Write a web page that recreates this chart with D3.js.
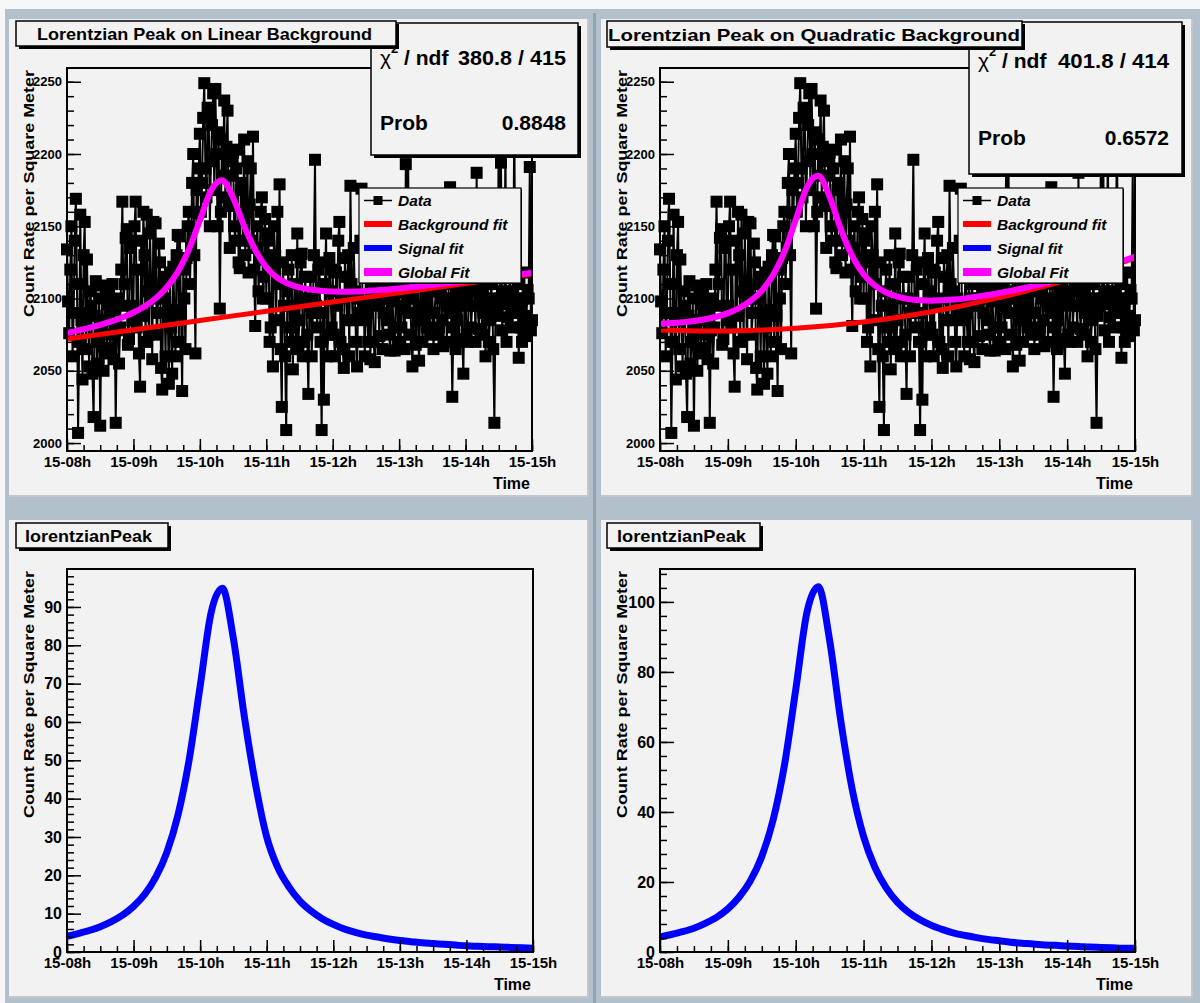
<!DOCTYPE html>
<html><head><meta charset="utf-8">
<script src="https://cdnjs.cloudflare.com/ajax/libs/d3/7.8.5/d3.min.js"></script>
<style>
body{margin:0;background:#fff;}
svg text{font-family:"Liberation Sans",Arial,Helvetica,sans-serif;font-weight:bold;fill:#000;}
</style></head><body><svg id="c" width="1200" height="1003"></svg>
<script>
// ---------------- DATA ----------------
const hourTicks = ["15-08h","15-09h","15-10h","15-11h","15-12h","15-13h","15-14h","15-15h"];
const hourValues = [8,9,10,11,12,13,14,15];
// measured count rate at even minutes (15-08:00, 08:02, ... 15-15:00)
const countRateEven = [
 2134,2076,2150,2090,2169,2007,2158,2044,2153,2127,2053,2095,2018,2112,2070,2012,2109,2085,2062,2106,2075,2058,2014,2100,2080,2167,2110,2148,2072,2140,
 2095,2167,2120,2039,2088,2130,2158,2075,2110,2153,2152,2090,2125,2037,2100,2115,2041,2080,2122,2060,2144,2143,2036,2100,2128,2160,2135,2200,2062,2159,
 2214,2180,2249,2170,2228,2195,2242,2245,2150,2093,2210,2237,2205,2164,2185,2201,2140,2203,2121,2180,2210,2160,2118,2190,2212,2081,2150,2127,2170,2115,
 2100,2145,2080,2053,2130,2160,2179,2025,2095,2009,2120,2070,2051,2110,2145,2085,2131,2070,2100,2034,2115,2090,2196,2080,2125,2009,2030,2145,2075,2105,
 2120,2060,2095,2153,2100,2052,2115,2130,2178,2085,2105,2053,2090,2176,2095,2125,2070,2058,2110,2056,2100,2074,2120,2090,2108,2130,2064,2098,2064,2105,
 2110,2080,2095,2193,2215,2100,2053,2090,2110,2057,2120,2085,2102,2130,2075,2105,2090,2112,2080,2100,2067,2115,2095,2177,2032,2100,2085,2070,2110,2048,
 2100,2070,2120,2095,2110,2187,2079,2105,2090,2060,2110,2085,2100,2014,2095,2215,2194,2105,2210,2087,2115,2095,2225,2100,2059,2080,2100,2074,2106,2191,2085
];
// measured count rate at odd minutes (15-08:01, 08:03, ... 15-14:59)
const countRateOdd = [
 2098,2120,2060,2140,2110,2070,2085,2130,2065,2090,2105,2048,2088,2055,2100,2080,2050,2102,2096,2066,2110,2092,2078,2055,2120,2095,2142,2068,2135,2085,
 2150,2080,2062,2140,2160,2070,2105,2145,2058,2100,2075,2138,2052,2110,2060,2090,2118,2048,2092,2130,2070,2088,2120,2065,2150,2110,2180,2130,2175,2190,
 2160,2225,2190,2232,2150,2220,2175,2200,2215,2160,2185,2170,2230,2135,2195,2150,2190,2125,2175,2140,2130,2195,2165,2140,2120,2135,2105,2160,2100,2155,
 2140,2070,2125,2150,2085,2110,2065,2125,2060,2105,2080,2130,2095,2065,2070,2125,2060,2115,2075,2100,2060,2130,2095,2120,2070,2090,2110,2060,2128,2080,
 2075,2118,2140,2070,2065,2128,2085,2060,2110,2135,2070,2100,2140,2085,2060,2090,2115,2100,2070,2095,2112,2100,2065,2105,2085,2075,2108,2080,2104,2070,
 2070,2108,2065,2105,2090,2075,2100,2068,2085,2095,2070,2110,2080,2090,2112,2065,2105,2075,2108,2085,2100,2070,2110,2090,2080,2065,2105,2095,2072,2100,
 2075,2105,2080,2112,2070,2095,2108,2075,2100,2092,2070,2110,2065,2088,2120,2100,2078,2096,2070,2100,2080,2105,2090,2110,2095,2070,2118,2088,2100,2078
];
// fit curves sampled every 10 minutes
const signalLinear = [4.1,4.8,5.6,6.6,7.9,9.6,11.9,15.0,19.5,26.0,35.7,50.0,69.3,88.7,94.9,81.7,61.1,43.6,30.0,22.0,
 17.0,13.3,10.7,8.7,7.2,6.0,5.1,4.4,3.9,3.4,3.0,2.7,2.4,2.2,2.0,1.8,1.6,1.5,1.4,1.3,1.2,1.1,1.0];
const signalQuadratic = [4.3,5.0,5.8,6.8,8.2,9.9,12.3,15.7,20.4,27.3,37.7,53.3,74.9,97.1,104.3,89.0,65.7,46.4,33.0,24.2,
 18.3,14.2,11.3,9.2,7.6,6.4,5.4,4.7,4.1,3.6,3.2,2.8,2.5,2.3,2.0,1.9,1.7,1.6,1.4,1.3,1.2,1.1,1.1];
const globalLinear = [2076.1,2077.9,2079.7,2081.8,2084.2,2086.9,2090.3,2094.5,2100.0,2107.6,2118.4,2133.7,2154.1,2174.6,2181.8,
 2169.7,2150.2,2133.7,2121.7,2114.3,2110.3,2107.7,2106.2,2105.2,2104.8,2104.7,2104.8,2105.2,2105.8,2106.3,2107.0,2107.8,
 2108.5,2109.4,2110.3,2111.1,2112.0,2113.0,2113.9,2114.9,2115.9,2116.8,2117.8];
const globalQuadratic = [2082.6,2083.0,2083.6,2084.4,2085.7,2087.4,2089.9,2093.4,2098.3,2105.4,2116.2,2132.2,2154.3,2177.1,2184.9,
 2170.3,2147.8,2129.3,2116.8,2109.0,2104.2,2101.3,2099.6,2098.8,2098.5,2098.8,2099.3,2100.1,2101.2,2102.4,2103.8,2105.3,
 2106.9,2108.7,2110.5,2112.6,2114.6,2116.8,2119.0,2121.4,2123.8,2126.3,2129.0];
// backgrounds sampled every hour
const bkgLinear = [2072.0,2078.4,2084.8,2091.2,2097.6,2104.0,2110.4,2116.8];
const bkgQuadratic = [2078.3,2077.6,2079.4,2083.8,2090.9,2100.6,2112.9,2127.9];
const yTicksTop = [2000,2050,2100,2150,2200,2250];
const yTicksBL = [0,10,20,30,40,50,60,70,80,90];
const yTicksBR = [0,20,40,60,80,100];
const legendLabels = ["Data","Background fit","Signal fit","Global Fit"];
const statsLinear = {chi:"380.8 / 415", prob:"0.8848"};
const statsQuadratic = {chi:"401.8 / 414", prob:"0.6572"};
const titles = ["Lorentzian Peak on Linear Background","Lorentzian Peak on Quadratic Background","lorentzianPeak","lorentzianPeak"];
const yTitle = "Count Rate per Square Meter";
const xTitle = "Time";

// ---------------- DRAW ----------------
const countRate = countRateEven.flatMap((v,i)=> i<countRateOdd.length ? [v,countRateOdd[i]] : [v]);
const svg = d3.select("#c");
const W = 1200, H = 1003;
const PAD = "#f2f2f2";
svg.append("rect").attr("width",W).attr("height",H).attr("fill","#f6f7f8");
svg.append("rect").attr("x",5).attr("y",9).attr("width",W-5).attr("height",H-9).attr("fill","#b2c0cb");
svg.append("rect").attr("x",593).attr("y",13).attr("width",3).attr("height",H-13).attr("fill","#92a4b4");

const dataT = countRate.map((v,i)=>8 + i/60);
const fitT = signalLinear.map((v,i)=>8 + i/6);

function boxWithShadow(g, x0,y0,x1,y1, sh, sw){
  g.append("rect").attr("x",x0+sh).attr("y",y0+sh).attr("width",x1-x0).attr("height",y1-y0).attr("fill","#000");
  g.append("rect").attr("x",x0).attr("y",y0).attr("width",x1-x0).attr("height",y1-y0)
   .attr("fill",PAD).attr("stroke","#000").attr("stroke-width",sw);
}

function panel(c){
  const g = svg.append("g");
  g.append("rect").attr("x",c.pad[0]).attr("y",c.pad[1]).attr("width",c.pad[2]-c.pad[0]).attr("height",c.pad[3]-c.pad[1]).attr("fill",PAD);
  g.append("path").attr("d",`M${c.pad[0]},${c.pad[3]}H${c.pad[2]}V${c.pad[1]}`).attr("fill","none").attr("stroke","#c4c8cc").attr("stroke-width",2);
  const [fl,fr,ft,fb] = c.frame;
  const x = d3.scaleLinear().domain([8,15]).range([fl,fr]);
  const y = d3.scaleLinear().domain(c.yDomain).range([fb,ft]);

  if(c.data){
    const line = d3.line().x((d,i)=>x(dataT[i])).y(d=>y(d));
    g.append("path").datum(c.data).attr("d",line).attr("fill","none").attr("stroke","#000").attr("stroke-width",2);
    g.selectAll(null).data(c.data).enter().append("rect")
      .attr("x",(d,i)=>x(dataT[i])-6).attr("y",d=>y(d)-6).attr("width",12).attr("height",12).attr("fill","#000");
    const bl = d3.line().x((d,i)=>x(hourValues[i])).y(d=>y(d)).curve(d3.curveNatural);
    g.append("path").datum(c.bkg).attr("d",bl).attr("fill","none").attr("stroke","#ff0000").attr("stroke-width",5);
    const gl = d3.line().x((d,i)=>x(fitT[i])).y(d=>y(d)).curve(d3.curveMonotoneX);
    g.append("path").datum(c.glob).attr("d",gl).attr("fill","none").attr("stroke","#ff00ff").attr("stroke-width",6);
  }
  if(c.signal){
    const sl = d3.line().x((d,i)=>x(fitT[i])).y(d=>y(d)).curve(d3.curveMonotoneX);
    g.append("path").datum(c.signal).attr("d",sl).attr("fill","none").attr("stroke","#0000ff").attr("stroke-width",7);
  }

  const xa = g.append("g").attr("transform",`translate(0,${fb})`)
    .call(d3.axisBottom(x).tickValues(hourValues).tickSize(-12).tickPadding(5).tickFormat((d,i)=>hourTicks[i]));
  const xm = g.append("g").attr("transform",`translate(0,${fb})`)
    .call(d3.axisBottom(x).tickValues(d3.range(8,15.001,0.25)).tickSize(-6).tickFormat(""));
  const ya = g.append("g").attr("transform",`translate(${fl},0)`)
    .call(d3.axisLeft(y).tickValues(c.yTicks).tickSize(-14).tickPadding(5).tickFormat(d3.format("d")));
  const ym = g.append("g").attr("transform",`translate(${fl},0)`)
    .call(d3.axisLeft(y).tickValues(d3.range(c.yTicks[0], c.yDomain[1], c.yMinor)).tickSize(-7).tickFormat(""));
  [xa,xm,ya,ym].forEach(a=>{a.select(".domain").remove(); a.selectAll("line").attr("stroke","#000").attr("stroke-width",1.5);});
  xa.selectAll("text").attr("font-size",15).attr("font-family",'"Liberation Sans",Arial,sans-serif').attr("font-weight","bold").attr("fill","#000");
  ya.selectAll("text").attr("font-size",c.yFont).attr("font-family",'"Liberation Sans",Arial,sans-serif').attr("font-weight","bold").attr("fill","#000");
  g.append("rect").attr("x",fl).attr("y",ft).attr("width",fr-fl).attr("height",fb-ft).attr("fill","none").attr("stroke","#000").attr("stroke-width",2);
  g.append("text").attr("x",fr-2).attr("y",fb+38).attr("text-anchor","end").attr("font-size",16).text(xTitle);
  g.append("text").attr("transform",`translate(${fl-33},${ft+2}) rotate(-90)`).attr("text-anchor","end")
    .attr("font-size",15).attr("textLength",247).attr("lengthAdjust","spacingAndGlyphs").text(yTitle);

  if(c.legend){
    const [lx0,ly0,lx1,ly1] = c.legend;
    boxWithShadow(g,lx0,ly0,lx1,ly1,1,1.2);
    const rows = [12.5,36,60,84];
    const cols = ["#000","#ff0000","#0000ff","#ff00ff"];
    const widths = [1.5,6,6,8];
    legendLabels.forEach((lab,i)=>{
      const yy = ly0+rows[i];
      g.append("line").attr("x1",lx0+5).attr("x2",lx0+33).attr("y1",yy).attr("y2",yy).attr("stroke",cols[i]).attr("stroke-width",widths[i]);
      if(i===0) g.append("rect").attr("x",lx0+14.5).attr("y",yy-4.5).attr("width",9).attr("height",9).attr("fill","#000");
      g.append("text").attr("x",lx0+39).attr("y",yy).attr("dy","0.36em").attr("font-size",15.5).attr("font-style","italic").text(lab);
    });
  }
  if(c.stats){
    const s = c.stats;
    boxWithShadow(g,s.box[0],s.box[1],s.box[2],s.box[3],3,1.5);
    const t1 = g.append("text").attr("x",s.lx).attr("y",s.y1).attr("font-size",21);
    t1.append("tspan").attr("font-weight","normal").text("χ");
    t1.append("tspan").attr("font-size",13).attr("dy",-12).text("2");
    t1.append("tspan").attr("dy",12).text(" / ndf");
    g.append("text").attr("x",s.rx).attr("y",s.y1).attr("text-anchor","end").attr("font-size",21)
      .attr("textLength",s.chiLen).attr("lengthAdjust","spacingAndGlyphs").text(s.v.chi);
    g.append("text").attr("x",s.lx).attr("y",s.y2).attr("font-size",21).text("Prob");
    g.append("text").attr("x",s.rx).attr("y",s.y2).attr("text-anchor","end").attr("font-size",21).text(s.v.prob);
  }
  const tb = c.title;
  boxWithShadow(g,tb.box[0],tb.box[1],tb.box[2],tb.box[3],3,1.5);
  g.append("text").attr("x",tb.x).attr("y",tb.base).attr("font-size",17).attr("textLength",tb.len)
    .attr("lengthAdjust","spacingAndGlyphs").text(tb.text);
}

panel({pad:[9,19,588,496], frame:[67,532,68,451], yDomain:[1994.5,2259.5], yTicks:yTicksTop, yMinor:10, yFont:13,
  data:countRate, bkg:bkgLinear, glob:globalLinear, legend:[359,188,521,283],
  stats:{box:[371,23,578,155], lx:380, rx:566, y1:65, y2:130, chiLen:108, v:statsLinear},
  title:{box:[16,21,396,46], x:37, base:40, len:335, text:titles[0]}});
panel({pad:[601,19,1192,496], frame:[660,1135,68,451], yDomain:[1994.5,2259.5], yTicks:yTicksTop, yMinor:10, yFont:13,
  data:countRate, bkg:bkgQuadratic, glob:globalQuadratic, legend:[958,188,1123,283],
  stats:{box:[969,22,1182,174], lx:978, rx:1169, y1:68, y2:145, chiLen:111, v:statsQuadratic},
  title:{box:[607,21,1022,47], x:608, base:41, len:412, text:titles[1]}});
panel({pad:[9,520,588,997], frame:[67,533,569,952], yDomain:[0,99.9], yTicks:yTicksBL, yMinor:2, yFont:16,
  signal:signalLinear, title:{box:[16,523,168,548], x:25, base:542, len:127, text:titles[2]}});
panel({pad:[601,520,1192,997], frame:[660,1135,569,952], yDomain:[0,109.4], yTicks:yTicksBR, yMinor:4, yFont:16,
  signal:signalQuadratic, title:{box:[607,523,760,548], x:617, base:542, len:129, text:titles[3]}});
</script></body></html>
